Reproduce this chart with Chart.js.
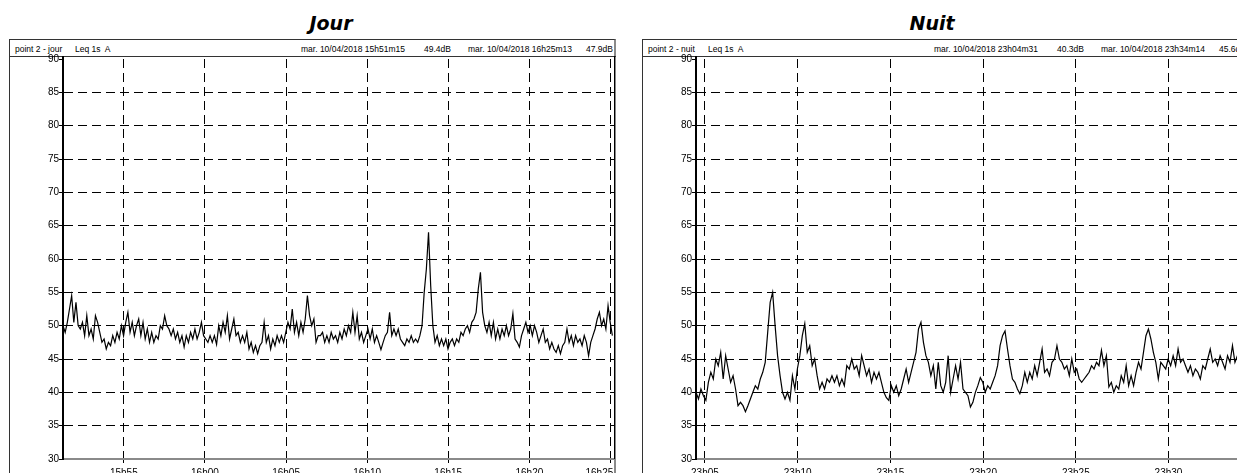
<!DOCTYPE html>
<html>
<head>
<meta charset="utf-8">
<script src="https://cdn.jsdelivr.net/npm/chart.js@4.4.1/dist/chart.umd.min.js"></script>
<style>
  html, body { margin: 0; padding: 0; background: #fff; }
  body { position: relative; width: 1237px; height: 473px; overflow: hidden; }
  .title { position: absolute; top: 12px; font: italic bold 19px "DejaVu Sans", Verdana, sans-serif;
           color: #000; white-space: nowrap; transform: translateX(-50%); }
  .frame { position: absolute; top: 39px; width: 607px; height: 480px; box-sizing: border-box;
           border: 1px solid #333; border-right: 2px solid #8a8a8a; }
  .sep { position: absolute; top: 56px; width: 607px; height: 1px; background: #333; }
  .hdr { position: absolute; top: 43px; font: 8.5px "Liberation Sans", Arial, sans-serif; line-height: 12px;
         color: #000; white-space: nowrap; }
  canvas { position: absolute; top: 39px; }
</style>
</head>
<body>

<div class="title" style="left:331px">Jour</div>
<div class="frame" style="left:9px"></div>
<div class="sep" style="left:9px"></div>
<div class="hdr" style="left:15px">point 2 - jour</div>
<div class="hdr" style="left:75px">Leq 1s&nbsp; A</div>
<div class="hdr" style="left:301px">mar. 10/04/2018 15h51m15</div>
<div class="hdr" style="left:424px">49.4dB</div>
<div class="hdr" style="left:468px">mar. 10/04/2018 16h25m13</div>
<div class="hdr" style="left:586px">47.9dB</div>
<canvas id="jour" width="607" height="450" style="left:9px"></canvas>

<div class="title" style="left:932px">Nuit</div>
<div class="frame" style="left:642px"></div>
<div class="sep" style="left:642px"></div>
<div class="hdr" style="left:648px">point 2 - nuit</div>
<div class="hdr" style="left:708px">Leq 1s&nbsp; A</div>
<div class="hdr" style="left:934px">mar. 10/04/2018 23h04m31</div>
<div class="hdr" style="left:1057px">40.3dB</div>
<div class="hdr" style="left:1101px">mar. 10/04/2018 23h34m14</div>
<div class="hdr" style="left:1219px">45.6dB</div>
<canvas id="nuit" width="607" height="450" style="left:642px"></canvas>

<script>
// Recording starts and sampling step (seconds between stored values)
const jourStart = '15h51m15';
const jourEnd = '16h25m13';
const nuitStart = '23h04m31';
const nuitEnd = '23h34m14';
const stepSeconds = 8;

// Time-axis tick labels
const jourTickLabels = ['15h55', '16h00', '16h05', '16h10', '16h15', '16h20', '16h25'];
const nuitTickLabels = ['23h05', '23h10', '23h15', '23h20', '23h25', '23h30'];

// Level axis ticks, dB(A)
const levelTicks = [30, 35, 40, 45, 50, 55, 60, 65, 70, 75, 80, 85, 90];

// Leq 1s A, day session
const jourLeq = [
  50, 49, 50.5, 52.5, 54.5, 50.5, 53.5, 50, 49.5, 50.5,
  48.5, 51.5, 48.5, 49.5, 48, 51.5, 50.5, 49, 47.5, 48,
  46.5, 47.5, 47, 48.5, 47.5, 49, 48, 50, 48.5, 50.5,
  52, 49, 50.5, 48.5, 50, 51, 48.5, 50.5, 48, 49.5,
  47.5, 49, 47.5, 48.5, 48, 50, 49.5, 51.5, 50, 49.5,
  48.5, 49.5, 48, 49, 47.5, 48.5, 46.8, 48.5, 47.5, 49,
  48, 49.5, 48, 49, 50.5, 48.5, 48, 47.5, 48.5, 47.5,
  48.5, 47.2, 50, 48.5, 50.5, 49, 51.5, 48, 49.5, 51,
  48.5, 49, 47.5, 48.5, 47.5, 49, 46.5, 47.5, 46, 47,
  45.8, 47, 47.5, 50.5, 47.5, 48.5, 46.5, 48, 47, 48.5,
  47.5, 48.5, 47.5, 49, 50.5, 49.5, 52.5, 49, 50.5, 48.5,
  50.5, 49, 51, 54.5, 51.5, 50, 51, 47.5, 48.5, 48.5,
  49, 47.5, 48.5, 47.5, 49, 48, 48.5, 47.5, 49, 48,
  49.5, 48.5, 50, 49, 52, 49, 51.5, 48, 49, 47.5,
  48.5, 49.5, 48, 49.5, 47.5, 48.5, 47.5, 46.4, 47.5, 48.5,
  49, 52, 48.5, 49.5, 48.5, 49.5, 48, 47.5, 47, 48,
  47.5, 48.5, 47.5, 48, 47.5, 48.5, 50, 55, 58.5, 64,
  56, 50, 47.5, 48.5, 47, 48, 47, 48, 46.5, 47.5,
  48, 47, 48, 47.5, 49, 48.5, 49.5, 50, 49, 50.5,
  51, 52, 55.5, 58, 52, 50, 49, 50.5, 48.5, 50.5,
  48, 49.5, 48, 49.5, 48.5, 50, 48.5, 49.5, 51.8, 48,
  47.5, 46.8, 48.5, 49.5, 50.5, 49, 50, 48.5, 50, 49,
  47.5, 48.5, 49.5, 47.5, 48, 46.5, 47.5, 46.5, 46, 47,
  45.8, 47, 47.5, 49.5, 47.5, 48.5, 47, 48.5, 47.5, 48,
  47, 48.5, 47.5, 45.5, 47.5, 48.5, 49.5, 51, 52, 50,
  51, 49.5, 53, 50.5, 48.5
];

// Leq 1s A, night session
const nuitLeq = [
  40, 39, 40.5, 39.5, 38.8, 41.5, 43, 42, 45, 44,
  46, 42, 45.5, 43.5, 41.5, 42.5, 40.5, 38, 38.5, 38,
  37.1, 38, 39, 40, 41, 40.5, 42, 43, 44.5, 49,
  53.5, 55, 50, 45.5, 42.5, 40, 39, 40, 38.8, 42.5,
  40.5, 43.5, 45.5, 48.5, 50.3, 46, 47, 44, 45, 42.5,
  40.5, 41.5, 40.5, 42, 41.5, 42.5, 41.5, 42.5, 41, 42,
  41, 44, 43.5, 45, 43.5, 44, 42.5, 45.5, 44, 42.5,
  43.5, 41.5, 43, 42, 43, 41.5, 40, 39.2, 38.8, 41,
  40, 41, 39.5, 40.5, 42, 43.5, 41.5, 43, 44.5, 46,
  49.5, 50.5, 47.5, 45.5, 44.5, 42.5, 44, 40.5, 44.5, 41,
  40, 41.5, 45.5, 40, 42, 44, 42, 44.5, 40.5, 40,
  39.5, 37.8, 38.5, 40, 41, 42.2, 41.5, 40, 41, 40.5,
  41.5, 42.5, 44, 47, 48.5, 49.2, 46.5, 44, 42, 41.5,
  40.5, 39.8, 41, 43, 41.5, 43, 42, 44, 42.5, 44.5,
  46.5, 43, 43.5, 42.5, 44.5, 45, 47, 45, 44.5, 43.5,
  44, 42.5, 45, 43, 43.5, 42, 41.5, 42, 42.5, 43,
  44, 43.5, 44.5, 44, 46.3, 44, 45.5, 40.8, 41.5, 40,
  41, 40.5, 42.5, 41.5, 44, 41, 42.5, 41, 43, 44.5,
  43.5, 46, 48.5, 49.5, 48, 46, 44.5, 42, 44.5, 44,
  43.5, 45, 44, 45.5, 44, 46.5, 44.5, 45, 44, 43,
  44, 42.5, 43.5, 43, 42, 44, 43.5, 45, 46.5, 44.5,
  45, 44, 45.5, 44.5, 43.5, 45.5, 44.5, 47, 44.5, 45.5,
  44.5, 45, 45.6
];

// "15h51m15" / "16h05" -> seconds of the day
function toSeconds(label) {
  const m = label.match(/(\d+)h(\d+)(?:m(\d+))?/);
  return (+m[1]) * 3600 + (+m[2]) * 60 + (m[3] ? +m[3] : 0);
}

const labelFont = { family: '"Liberation Sans", Arial, sans-serif', size: 10 };

// right edge of the plot box and the stub of the level axis up to the header rule
const plotEdges = {
  id: 'plotEdges',
  afterDraw(chart) {
    const { ctx, chartArea: a } = chart;
    ctx.save();
    ctx.strokeStyle = '#000';
    ctx.lineWidth = 1;
    ctx.beginPath();
    ctx.moveTo(Math.round(a.right) + 0.5, a.top - 3);
    ctx.lineTo(Math.round(a.right) + 0.5, a.bottom);
    ctx.stroke();
    ctx.lineWidth = 2;
    ctx.beginPath();
    ctx.moveTo(Math.round(a.left), a.top - 3);
    ctx.lineTo(Math.round(a.left), a.top + 1);
    ctx.stroke();
    ctx.restore();
  }
};

function noScalePadding(s) {
  s.paddingLeft = 0;
  s.paddingRight = 0;
  s.paddingTop = 0;
  s.paddingBottom = 0;
}

function drawSession(canvasId, values, startLabel, endLabel, tickLabels) {
  const start = toSeconds(startLabel);
  const span = toSeconds(endLabel) - start;
  const tickPos = tickLabels.map(l => toSeconds(l) - start);
  const points = values.map((v, i) => ({ x: i * stepSeconds, y: v }));

  return new Chart(document.getElementById(canvasId), {
    type: 'line',
    data: {
      datasets: [{
        data: points,
        borderColor: '#000',
        borderWidth: 1.2,
        pointRadius: 0,
        tension: 0,
        fill: false
      }]
    },
    options: {
      responsive: false,
      animation: false,
      events: [],
      layout: { autoPadding: false, padding: { top: 20, right: 2, left: 0, bottom: 0 } },
      plugins: { legend: { display: false }, tooltip: { enabled: false }, title: { display: false } },
      scales: {
        x: {
          type: 'linear',
          min: 0,
          max: span,
          afterBuildTicks: s => { s.ticks = tickPos.map(v => ({ value: v })); },
          afterFit: s => { s.height = 30; noScalePadding(s); },
          ticks: {
            autoSkip: false,
            maxRotation: 0,
            padding: 4,
            color: '#000',
            font: labelFont,
            // a label too close to the end of the record is pulled back inside the box
            callback: (v, i) => (span - v < 60 ? tickLabels[i] + '        ' : tickLabels[i])
          },
          grid: { color: '#000', lineWidth: 1, tickLength: 4, tickColor: '#000' },
          border: { display: true, color: '#8a8a8a', width: 2, dash: [9, 5] }
        },
        y: {
          min: 30,
          max: 90,
          afterBuildTicks: s => { s.ticks = levelTicks.map(v => ({ value: v })); },
          afterFit: s => { s.width = 54; noScalePadding(s); },
          ticks: { padding: 0, color: '#000', font: labelFont, callback: v => String(v) },
          grid: {
            color: c => (c.tick && (c.tick.value === 30 || c.tick.value === 90)) ? 'rgba(0,0,0,0)' : '#000',
            lineWidth: 1,
            tickLength: 4,
            tickColor: '#000'
          },
          border: { display: true, color: '#000', width: 2, dash: [9, 5] }
        }
      }
    },
    plugins: [plotEdges]
  });
}

drawSession('jour', jourLeq, jourStart, jourEnd, jourTickLabels);
drawSession('nuit', nuitLeq, nuitStart, nuitEnd, nuitTickLabels);
</script>
</body>
</html>
